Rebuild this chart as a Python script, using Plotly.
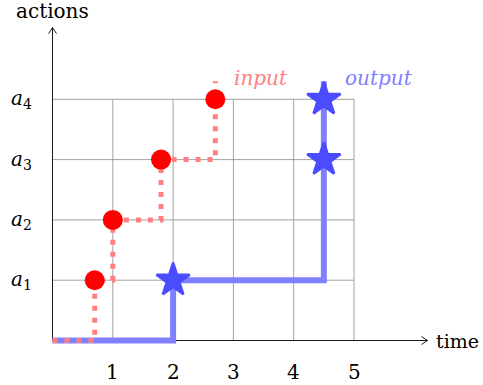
import plotly.graph_objects as go

# ---- data ----
x_ticks = [1, 2, 3, 4, 5]
x_tick_labels = ["1", "2", "3", "4", "5"]
y_ticks = [1, 2, 3, 4]
y_tick_labels = ["<i>a</i><sub>1</sub>", "<i>a</i><sub>2</sub>",
                 "<i>a</i><sub>3</sub>", "<i>a</i><sub>4</sub>"]

input_times = [0.7, 1.0, 1.8, 2.7]
input_actions = [1, 2, 3, 4]
output_times = [2.0, 4.5, 4.5]
output_actions = [1, 3, 4]
path_end = 4.3          # where the step paths stop above a4
x_axis_end = 6.22
y_axis_end = 5.19

# ---- geometry ----
W, H = 483, 385
X0, Y0, S = 52.5, 340.5, 60.3
xr = [-X0 / S, (W - X0) / S]
yr = [-(H - Y0) / S, Y0 / S]

FONT = "DejaVu Serif"
FS = 20
fig = go.Figure()

shapes = []
grid_col = "#8a8a8a"
for k in range(1, 6):
    shapes.append(dict(type="line", x0=k, x1=k, y0=0, y1=4, line=dict(color=grid_col, width=0.8), layer="below"))
for k in range(1, 5):
    shapes.append(dict(type="line", x0=0, x1=5, y0=k, y1=k, line=dict(color=grid_col, width=0.8), layer="below"))
# axes
shapes.append(dict(type="line", x0=0, x1=x_axis_end, y0=0, y1=0, line=dict(color="black", width=0.9), layer="below"))
shapes.append(dict(type="line", x0=0, x1=0, y0=0, y1=y_axis_end, line=dict(color="black", width=0.9), layer="below"))
# arrowheads
u = 1 / S
tx = x_axis_end
shapes.append(dict(type="path", layer="below",
                   path=f"M {tx-6*u},{4*u} Q {tx-2*u},{1*u} {tx},0 Q {tx-2*u},{-1*u} {tx-6*u},{-4*u}",
                   line=dict(color="black", width=0.9)))
ty = y_axis_end
shapes.append(dict(type="path", layer="below",
                   path=f"M {-4*u},{ty-6*u} Q {-1*u},{ty-2*u} 0,{ty} Q {1*u},{ty-2*u} {4*u},{ty-6*u}",
                   line=dict(color="black", width=0.9)))

# output step path (blue)
fig.add_trace(go.Scatter(
    x=[0] + output_times + [output_times[-1]],
    y=[0] + output_actions + [path_end],
    mode="lines", line=dict(color="#8080ff", width=6, shape="hv"),
    hoverinfo="skip", showlegend=False))
# input step path (red dotted)
fig.add_trace(go.Scatter(
    x=[0] + input_times + [input_times[-1]],
    y=[0] + input_actions + [path_end],
    mode="lines", line=dict(color="#ff8080", width=5, shape="hv", dash="5px,7px"),
    hoverinfo="skip", showlegend=False))
# input markers
fig.add_trace(go.Scatter(
    x=input_times, y=input_actions, mode="markers",
    marker=dict(symbol="circle", size=20, color="#ff0000", line=dict(width=0)),
    showlegend=False))
# output markers
fig.add_trace(go.Scatter(
    x=output_times, y=output_actions, mode="markers",
    marker=dict(symbol="star", size=25, color="#4b4bff", line=dict(width=2.5, color="#4b4bff")),
    showlegend=False))

ann = []
for v, t in zip(x_ticks, x_tick_labels):
    ann.append(dict(x=v, y=0, text=t, showarrow=False, yshift=-31,
                    font=dict(family=FONT, size=FS, color="black")))
for v, t in zip(y_ticks, y_tick_labels):
    ann.append(dict(x=0, y=v, text=t, showarrow=False, xshift=-31,
                    font=dict(family=FONT, size=FS, color="black")))
ann.append(dict(x=x_axis_end, y=0, text="time", showarrow=False, xanchor="left", xshift=6,
                font=dict(family=FONT, size=19, color="black")))
ann.append(dict(x=0, y=1, xref="x", yref="paper", text="actions", showarrow=False,
                yanchor="top", yshift=3,
                font=dict(family=FONT, size=FS, color="black")))
ann.append(dict(x=input_times[-1], y=path_end, text="<i>input</i>", showarrow=False,
                xanchor="left", xshift=17, yshift=3,
                font=dict(family=FONT, size=FS, color="#ff8080")))
ann.append(dict(x=output_times[-1], y=path_end, text="<i>output</i>", showarrow=False,
                xanchor="left", xshift=19, yshift=3,
                font=dict(family=FONT, size=FS, color="#8080ff")))

fig.update_layout(
    width=W, height=H, margin=dict(l=0, r=0, t=0, b=0),
    paper_bgcolor="white", plot_bgcolor="white",
    xaxis=dict(range=xr, visible=False, fixedrange=True),
    yaxis=dict(range=yr, visible=False, fixedrange=True),
    shapes=shapes, annotations=ann, showlegend=False,
)
fig.write_html("out.html", config={"displayModeBar": False},
               post_script="document.body.style.margin='0';document.body.style.overflow='hidden';")
